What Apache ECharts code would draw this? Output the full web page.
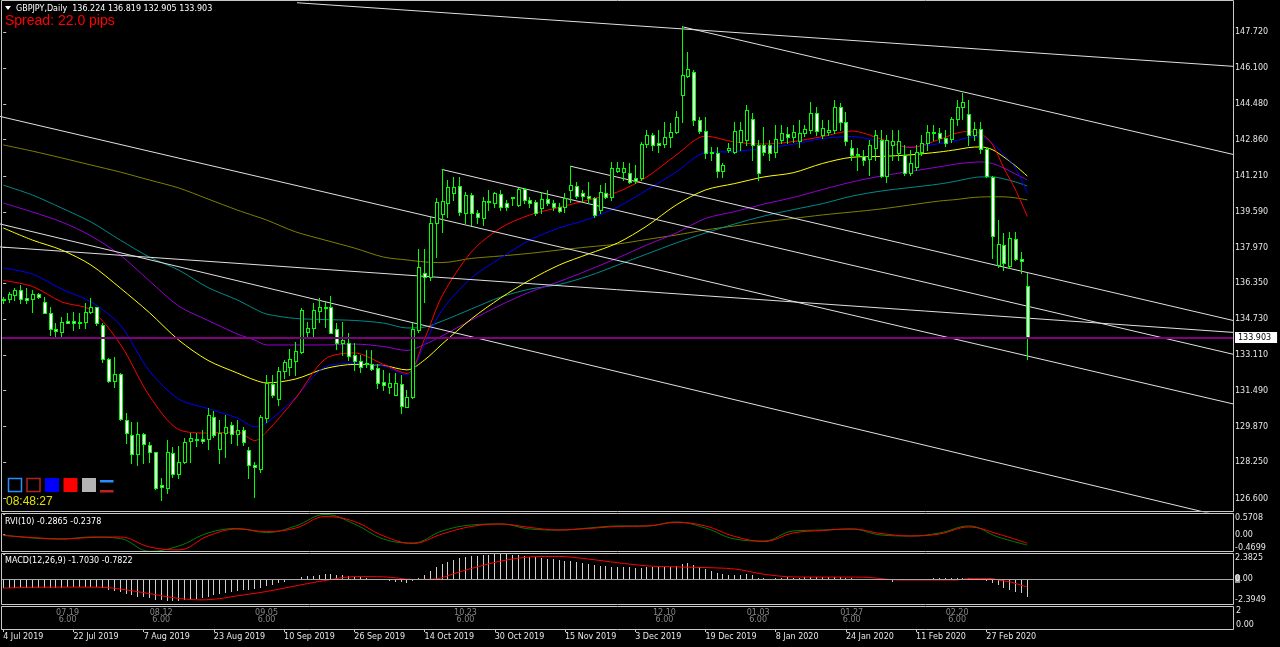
<!DOCTYPE html>
<html><head><meta charset="utf-8">
<script src="https://cdn.jsdelivr.net/npm/echarts@6/dist/echarts.min.js"></script>
<style>html,body{margin:0;padding:0;background:#000;overflow:hidden}#c{width:1280px;height:647px}</style>
</head><body><div id="c"></div>
<script>
// ---------------- DATA ----------------
const symbolTitle = 'GBPJPY,Daily';
const lastBar = [136.224, 136.819, 132.905, 133.903]; // O H L C shown in header
const spreadText = 'Spread: 22.0 pips';
const clockText = '08:48:27';
const rviTitle = 'RVI(10) -0.2865 -0.2378';
const macdTitle = 'MACD(12,26,9) -1.7030 -0.7822';

const dateTickIdx = [0,12,24,36,48,60,72,84,96,108,120,132,144,156,168];
const dateTickLabels = ['4 Jul 2019','22 Jul 2019','7 Aug 2019','23 Aug 2019','10 Sep 2019','26 Sep 2019','14 Oct 2019','30 Oct 2019','15 Nov 2019','3 Dec 2019','19 Dec 2019','8 Jan 2020','24 Jan 2020','11 Feb 2020','27 Feb 2020'];
const priceTicks = [147.72,146.10,144.48,142.86,141.21,139.59,137.97,136.35,134.73,133.11,131.49,129.87,128.25,126.60];
const rviTicks = [-0.4699, 0, 0.5708];
const macdTicks = [-2.3949, 0, 2.3825];
const sessionIdx = [11,27,45,79,113,129,145,163];
const sessionDate = ['07.19','08.12','09.05','10.23','12.10','01.03','01.27','02.20'];
const sessionTime = ['6.00','6.00','6.00','6.00','6.00','6.00','6.00','6.00'];

// daily candles [open, high, low, close], bar 0 = 4 Jul 2019
const ohlc = [
[135.60,135.75,135.46,135.64],[135.63,135.97,135.52,135.85],[135.82,136.13,135.60,136.05],[136.05,136.27,135.45,135.63],[135.67,136.14,135.45,135.60],
[135.63,136.05,135.07,135.87],[135.85,135.90,135.67,135.75],[135.52,135.75,135.00,135.02],[135.02,135.29,134.01,134.27],[134.27,134.54,133.93,134.19],
[134.16,134.84,133.86,134.59],[134.66,135.00,134.54,134.57],[134.65,135.07,134.24,134.54],[134.61,135.00,134.31,134.54],[134.59,135.45,134.31,135.07],
[135.07,135.67,135.00,135.27],[135.27,135.29,134.46,134.54],[134.46,134.54,132.80,132.91],[132.91,132.95,131.90,131.94],[131.94,133.03,131.67,132.24],
[132.24,132.27,130.16,130.19],[130.16,130.47,129.11,129.56],[129.48,130.08,128.20,128.62],[128.61,130.08,128.12,129.51],[129.53,129.57,128.21,129.06],
[129.03,129.18,128.27,128.73],[128.70,128.73,127.02,127.10],[127.22,127.52,126.54,127.14],[127.10,129.25,126.84,128.73],[128.65,128.95,127.59,127.70],
[127.70,128.98,127.52,128.25],[128.25,129.33,128.20,129.15],[129.21,129.56,128.27,129.33],[129.30,129.57,128.98,129.24],[129.29,129.71,129.11,129.22],
[129.29,130.69,128.83,130.39],[130.31,130.58,129.41,129.47],[128.83,130.16,128.20,129.59],[129.56,130.39,128.50,129.86],[129.95,130.08,129.12,129.53],
[129.53,130.16,129.03,129.71],[129.71,129.86,129.03,129.18],[128.80,128.95,127.53,128.12],[128.11,128.27,126.69,128.02],[127.93,130.39,127.82,130.31],
[130.24,132.20,130.08,131.82],[131.79,132.20,131.22,131.29],[131.10,132.57,130.84,132.38],[132.38,132.88,132.05,132.80],[132.57,133.36,132.20,132.92],
[132.83,133.71,132.20,133.29],[133.25,135.22,133.21,135.14],[134.13,134.61,133.93,134.31],[134.31,135.45,133.97,135.14],[135.11,135.67,134.61,135.27],
[135.29,135.52,134.39,135.22],[135.27,135.78,134.09,134.12],[134.28,134.57,133.36,133.63],[133.66,134.61,133.11,133.78],[133.63,134.09,132.88,133.07],
[133.11,133.63,132.43,132.85],[132.85,133.11,132.35,132.57],[132.70,133.33,132.57,132.76],[132.70,133.33,132.43,132.47],[132.53,132.70,131.60,131.82],
[131.88,132.43,131.52,131.75],[131.67,132.29,131.38,131.82],[131.29,132.27,131.29,131.82],[131.79,132.20,130.47,130.80],[130.76,131.52,130.76,131.19],
[131.19,134.57,131.14,134.27],[134.24,137.89,134.16,137.10],[136.80,137.89,135.52,136.65],[136.62,139.37,136.50,139.10],[139.07,140.20,137.56,140.05],
[139.49,141.52,138.69,140.08],[140.00,141.03,139.37,140.73],[140.43,141.17,140.13,140.73],[140.76,141.18,139.45,139.60],[139.52,140.50,139.07,140.35],
[140.35,140.44,138.99,139.52],[139.52,139.67,139.07,139.37],[139.30,140.27,138.99,140.09],[140.09,140.58,139.67,140.05],[139.98,140.50,139.82,140.43],
[140.40,140.58,139.67,139.82],[139.98,140.13,139.67,139.79],[140.26,140.27,139.90,140.21],[139.90,140.66,139.85,140.61],[140.61,140.66,139.98,140.13],
[140.13,140.27,139.82,140.00],[140.05,140.13,139.45,139.52],[139.75,140.50,139.52,140.16],[140.16,140.58,139.90,140.00],[140.00,140.13,139.67,139.82],
[139.82,139.99,139.58,139.64],[139.82,140.43,139.60,140.20],[140.58,141.66,140.05,140.80],[140.76,140.95,140.20,140.31],[140.43,140.58,140.05,140.31],
[140.31,140.95,139.98,140.20],[140.20,140.27,139.37,139.45],[139.67,140.80,139.52,140.47],[140.46,140.91,140.20,140.27],[140.27,141.86,140.13,141.56],
[141.44,141.86,141.41,141.56],[141.41,141.86,141.03,141.59],[141.33,141.79,140.91,140.95],[141.11,141.71,140.89,141.00],[141.11,142.77,141.03,142.66],
[142.66,143.30,142.54,143.07],[143.07,143.15,142.39,142.62],[142.69,143.30,142.31,142.62],[142.66,143.67,142.54,142.99],[142.99,143.60,142.54,143.22],
[143.22,144.17,143.15,143.87],[144.88,148.00,143.67,145.79],[145.74,146.84,145.71,146.04],[145.94,146.01,143.52,143.75],[143.75,143.90,143.15,143.26],
[143.26,143.87,142.01,142.27],[142.25,142.53,141.94,142.28],[142.24,142.54,141.18,141.45],[141.45,141.79,141.18,141.70],[142.39,142.69,142.31,142.49],
[142.31,143.67,142.24,143.25],[142.77,143.66,142.39,143.30],[142.84,144.43,142.62,144.20],[143.78,144.07,141.94,142.62],[142.62,142.84,141.03,141.33],
[142.62,143.45,142.16,142.31],[142.62,142.84,141.94,142.27],[142.31,143.52,142.06,142.87],[142.84,143.52,142.71,143.15],[143.10,143.43,142.71,142.96],
[142.96,143.50,142.75,143.20],[142.81,143.75,142.54,143.17],[143.15,143.52,143.02,143.33],[143.30,144.56,143.16,144.08],[144.05,144.34,143.07,143.26],
[143.07,143.75,142.93,143.37],[143.22,143.75,143.07,143.30],[143.30,144.65,143.16,144.32],[144.32,144.52,143.30,143.67],[143.64,144.11,142.62,142.81],
[142.47,142.84,141.94,142.16],[142.16,142.47,141.48,142.21],[142.12,142.39,141.71,141.94],[141.97,142.84,141.26,142.62],[142.47,143.30,141.94,143.07],
[142.84,143.30,141.17,141.21],[141.21,143.07,140.94,142.84],[142.62,143.30,141.94,142.81],[142.24,143.30,141.94,142.81],[142.16,142.62,141.26,141.36],
[141.36,142.39,141.26,141.79],[141.63,142.62,141.48,142.31],[142.31,143.07,142.16,142.69],[142.69,143.52,142.39,143.22],[143.17,143.52,142.84,143.22],
[143.17,143.39,142.75,142.92],[142.92,143.30,142.57,142.69],[142.87,143.88,142.75,143.78],[143.78,144.65,143.52,144.32],[144.35,144.96,143.78,144.55],
[144.02,144.65,142.62,143.07],[143.07,143.67,142.84,143.33],[143.33,143.67,142.24,142.42],[142.42,142.48,141.17,141.21],[141.18,141.21,137.51,138.51],
[137.18,139.22,137.10,138.13],[138.09,138.62,136.95,137.26],[137.14,138.69,137.05,138.39],[138.36,138.69,137.41,137.44],[137.47,137.76,136.80,137.36],
[136.224,136.819,132.905,133.903]
];

// moving averages, read at these bar indices
const maIdx = [0,5,10,15,20,25,30,35,40,43,45,50,55,60,65,69,72,75,80,85,90,95,100,105,110,115,120,125,130,135,140,145,150,155,160,163,165,167,169,171,173,175];
const maRed    = [136.48,136.21,135.51,135.14,133.60,131.25,129.73,129.57,129.62,129.23,129.62,131.16,132.92,133.20,132.68,132.27,133.83,135.78,137.77,138.86,139.45,139.79,140.13,140.49,141.17,142.16,143.02,142.75,142.66,142.77,143.00,143.25,142.89,142.50,142.87,143.16,143.23,143.14,142.66,141.57,140.58,139.37];
const maBlue   = [137.05,136.77,136.09,135.51,134.46,132.38,131.11,130.68,130.25,129.86,130.03,131.20,132.56,132.72,132.61,132.20,133.60,135.14,136.59,137.50,138.31,138.86,139.26,139.81,140.58,141.39,142.27,142.32,142.47,142.65,142.91,143.00,142.77,142.53,142.68,142.82,142.96,142.99,142.71,142.16,141.57,140.43];
const maYellow = [138.86,138.31,137.86,137.18,136.14,135.02,133.78,132.86,132.29,131.97,131.84,132.02,132.49,132.68,132.63,132.43,132.88,133.60,134.74,135.69,136.50,137.18,137.68,138.18,138.95,139.90,140.58,140.87,141.17,141.36,141.78,142.06,142.10,142.17,142.30,142.41,142.50,142.53,142.41,142.07,141.67,141.21];
const maPurple = [139.99,139.58,139.13,138.50,137.63,136.46,135.32,134.67,134.06,133.78,133.56,133.56,133.56,133.60,133.49,133.31,133.58,133.97,134.69,135.37,135.96,136.43,136.95,137.50,138.09,138.63,139.29,139.60,139.94,140.24,140.60,140.94,141.21,141.42,141.63,141.76,141.82,141.85,141.78,141.57,141.30,141.03];
const maTeal   = [140.80,140.35,139.76,139.13,138.31,137.54,136.95,136.16,135.60,135.19,134.96,134.76,134.71,134.67,134.55,134.33,134.37,134.64,135.19,135.73,136.09,136.30,136.68,137.18,137.68,138.18,138.63,139.04,139.40,139.69,139.96,140.30,140.53,140.69,140.85,140.99,141.10,141.17,141.17,141.08,140.94,140.76];
const maOlive  = [142.62,142.34,142.03,141.71,141.39,141.03,140.67,140.17,139.67,139.40,139.22,138.68,138.31,137.95,137.54,137.41,137.32,137.29,137.48,137.59,137.71,137.86,138.00,138.13,138.34,138.54,138.77,138.95,139.13,139.29,139.45,139.58,139.72,139.90,140.08,140.15,140.22,140.26,140.27,140.27,140.22,140.13];

// trend lines: [barIndex, price] anchor pairs
const trendLines = [
  [[50.2,149.06],[210.15,146.18]],
  [[116.2,147.96],[210.15,142.19]],
  [[74.93,141.51],[210.15,133.14]],
  [[96.86,141.66],[210.15,134.67]],
  [[-0.55,138.00],[210.15,134.13]],
  [[-0.55,143.91],[210.15,130.89]],
  [[-0.55,139.04],[210.15,125.68]]
];

// RVI(10), read every 5 bars
const rviIdx = [0,5,10,15,20,25,30,35,40,45,50,55,60,65,70,75,80,85,90,95,100,105,110,115,120,125,130,135,140,145,150,155,160,165,170,175];
const rviMain   = [-0.009,-0.092,-0.119,-0.064,-0.105,-0.46,-0.312,0.046,0.171,0.060,0.240,0.56,0.295,-0.119,-0.230,0.102,0.267,0.295,0.157,0.129,0.184,0.240,0.240,0.350,0.184,-0.119,-0.175,0.102,0.129,0.157,-0.009,-0.036,0.046,0.240,-0.064,-0.2865];
const rviSignal = [-0.023,-0.078,-0.119,-0.078,-0.064,-0.340,-0.42,-0.036,0.157,0.088,0.184,0.50,0.364,-0.036,-0.243,0.019,0.226,0.295,0.198,0.129,0.171,0.226,0.240,0.336,0.240,-0.050,-0.188,0.046,0.115,0.157,0.033,-0.036,0.019,0.212,0.019,-0.2378];

// MACD(12,26,9) main value per bar
const macdMain = [
-0.90,-0.91,-0.91,-0.90,-0.89,-0.88,-0.86,-0.84,-0.83,-0.83,-0.82,-0.80,-0.78,-0.77,-0.76,-0.75,-0.78,
-0.90,-1.02,-1.12,-1.28,-1.45,-1.58,-1.68,-1.76,-1.86,-1.97,-2.06,-2.10,-2.15,-2.12,-2.05,-1.98,-1.90,-1.80,
-1.68,-1.58,-1.48,-1.38,-1.28,-1.18,-1.10,-1.04,-0.98,-0.86,-0.70,-0.55,-0.40,-0.25,-0.12,
0.02,0.15,0.24,0.32,0.38,0.44,0.45,0.40,0.36,0.30,0.22,0.15,0.08,0.02,-0.06,-0.14,-0.20,-0.26,-0.34,-0.38,
-0.22,0.10,0.40,0.75,1.10,1.40,1.65,1.85,1.98,2.08,2.16,2.22,2.28,2.32,2.36,2.38,2.35,2.30,2.25,2.20,
2.14,2.06,2.00,1.94,1.86,1.78,1.72,1.70,1.62,1.55,1.40,1.32,1.26,1.20,1.18,1.16,1.15,1.10,1.05,1.08,
1.12,1.15,1.14,1.15,1.18,1.25,1.45,1.55,1.35,1.15,0.98,0.73,0.61,0.44,0.35,0.35,0.35,0.44,0.35,0.13,
0.13,0.04,0.13,0.13,0.19,0.13,0.13,0.19,0.19,0.19,0.19,0.19,0.19,0.19,0.13,0.06,0.02,-0.02,-0.03,-0.05,
-0.08,-0.10,-0.25,-0.10,-0.10,-0.10,-0.08,-0.05,0.00,0.08,0.13,0.13,0.06,0.10,0.12,0.05,0.02,-0.05,-0.15,-0.38,
-0.60,-0.91,-1.07,-1.23,-1.32,-1.703
];
const macdSigIdx = [0,5,11,17,21,25,28,31,34,37,40,45,51,55,60,65,70,74,77,80,85,90,95,100,105,110,115,119,125,130,135,147,151,153,163,165,169,170,172,175];
const macdSignal = [-0.88,-0.80,-0.78,-0.80,-1.05,-1.40,-1.70,-1.92,-2.00,-1.88,-1.62,-1.20,-0.55,-0.15,0.22,0.20,-0.05,0.00,0.50,1.00,1.70,2.10,2.15,1.90,1.55,1.25,1.15,1.10,0.95,0.45,0.19,0.17,-0.03,-0.10,-0.10,0.04,0.04,-0.10,-0.28,-0.7822];

// ---------------- CHART ----------------
const FONT = 'DejaVu Sans';
const X_MIN = -0.376, X_MAX = 210.15;
const chart = echarts.init(document.getElementById('c'), null, {renderer: 'canvas', width: 1280, height: 647});

function renderCandle(params, api) {
  const i = api.value(0), o = api.value(1), h = api.value(2), l = api.value(3), c = api.value(4);
  const pO = api.coord([i, o]), pC = api.coord([i, c]), pH = api.coord([i, h]), pL = api.coord([i, l]);
  const n = Math.floor(pO[0]);
  const yt = Math.round(Math.min(pO[1], pC[1])), yb = Math.round(Math.max(pO[1], pC[1]));
  const yh = Math.round(pH[1]), yl = Math.round(pL[1]);
  const bull = c >= o;
  const children = [
    {type: 'rect', shape: {x: n, y: yh, width: 1, height: Math.max(1, yl - yh + 1)}, style: {fill: '#00ff00'}},
    {type: 'rect', shape: {x: n - 1, y: yt, width: 4, height: yb - yt + 1}, style: {fill: '#00ff00'}}
  ];
  if (yb - yt >= 2) {
    children.push({type: 'rect', shape: {x: n, y: yt + 1, width: 2, height: yb - yt - 1}, style: {fill: bull ? '#000000' : '#ffffff'}});
  }
  return {type: 'group', children};
}
function renderHist(params, api) {
  const i = api.value(0), v = api.value(1);
  const p0 = api.coord([i, 0]), p1 = api.coord([i, v]);
  const x = Math.floor(p0[0]);
  const y0 = Math.round(p0[1]), y1 = Math.round(p1[1]);
  return {type: 'rect', shape: {x: x, y: Math.min(y0, y1), width: 1, height: Math.max(1, Math.abs(y1 - y0))}, style: {fill: '#cfcfcf'}};
}
function maSeries(vals, color) {
  return {type: 'line', xAxisIndex: 0, yAxisIndex: 0, data: maIdx.map((x, k) => [x, vals[k]]),
    symbol: 'none', smooth: 0.3, lineStyle: {color: color, width: 1}, silent: true, z: 2, animation: false};
}
const hiddenX = gi => ({type: 'value', gridIndex: gi, min: X_MIN, max: X_MAX, show: false});
const lbl = {color: '#e6e6e6', fontSize: 8, fontFamily: FONT};

const series = [];
series.push(maSeries(maOlive, '#808000'));
series.push(maSeries(maTeal, '#008b8b'));
series.push(maSeries(maPurple, '#9400d3'));
series.push(maSeries(maYellow, '#ffff00'));
series.push(maSeries(maBlue, '#0000ff'));
series.push(maSeries(maRed, '#ff0000'));
trendLines.forEach(t => series.push({type: 'line', xAxisIndex: 0, yAxisIndex: 0, data: t, symbol: 'none',
  lineStyle: {color: '#e0e0e0', width: 1}, silent: true, z: 2, clip: true}));
series.push({
  type: 'custom', xAxisIndex: 0, yAxisIndex: 0, clip: true, z: 3,
  data: ohlc.map((d, i) => [i, d[0], d[1], d[2], d[3]]),
  encode: {x: 0, y: [1, 2, 3, 4]},
  renderItem: renderCandle,
  markLine: {
    silent: true, symbol: 'none', animation: false,
    data: [{yAxis: lastBar[3]}],
    lineStyle: {color: '#800080', width: 2, type: 'solid'},
    label: {show: true, position: 'end', distance: 2, formatter: lastBar[3].toFixed(3),
      backgroundColor: '#ffffff', color: '#000000', fontSize: 8, fontFamily: FONT, padding: [2, 6, 1, 3]}
  }
});
series.push({type: 'line', xAxisIndex: 1, yAxisIndex: 1, data: rviIdx.map((x, k) => [x, rviMain[k]]),
  symbol: 'none', smooth: 0.4, lineStyle: {color: '#008000', width: 1}, silent: true});
series.push({type: 'line', xAxisIndex: 1, yAxisIndex: 1, data: rviIdx.map((x, k) => [x, rviSignal[k]]),
  symbol: 'none', smooth: 0.4, lineStyle: {color: '#ff0000', width: 1}, silent: true});
series.push({
  type: 'custom', xAxisIndex: 2, yAxisIndex: 2, clip: true,
  data: macdMain.map((v, i) => [i, v]), encode: {x: 0, y: 1}, renderItem: renderHist,
  markLine: {silent: true, symbol: 'none', animation: false, data: [{yAxis: 0}],
    lineStyle: {color: '#a8a8a8', width: 1, type: 'solid'}, label: {show: false}}
});
series.push({type: 'line', xAxisIndex: 2, yAxisIndex: 2, data: macdSigIdx.map((x, k) => [x, macdSignal[k]]),
  symbol: 'none', smooth: 0.3, lineStyle: {color: '#ff0000', width: 1}, silent: true, z: 3});
series.push({type: 'scatter', xAxisIndex: 3, yAxisIndex: 3, symbolSize: 1, itemStyle: {color: 'transparent'},
  data: sessionIdx.map(i => [i, 1.15]), silent: true,
  label: {show: true, position: 'inside', formatter: p => sessionDate[p.dataIndex] + '\n' + sessionTime[p.dataIndex],
    color: '#a8a8a8', fontSize: 8, lineHeight: 7.5, fontFamily: FONT}});

const option = {
  backgroundColor: '#000000',
  animation: false,
  grid: [
    {left: 1, top: 1, width: 1232, height: 511},
    {left: 1, top: 514, width: 1232, height: 37.7},
    {left: 1, top: 554, width: 1232, height: 50},
    {left: 1, top: 607, width: 1232, height: 22}
  ],
  xAxis: [hiddenX(0), hiddenX(1), hiddenX(2), {
    type: 'value', gridIndex: 3, min: X_MIN, max: X_MAX, position: 'bottom',
    axisLine: {show: false}, splitLine: {show: false},
    axisTick: {show: true, customValues: dateTickIdx, length: 3, lineStyle: {color: '#c8c8c8'}},
    axisLabel: Object.assign({customValues: dateTickIdx, formatter: v => dateTickLabels[dateTickIdx.indexOf(v)], align: 'left', margin: 4}, lbl)
  }],
  yAxis: [
    {type: 'value', gridIndex: 0, position: 'right', min: 125.995, max: 149.138,
      axisLine: {show: false}, splitLine: {show: false},
      axisTick: {show: true, customValues: priceTicks, length: 3, lineStyle: {color: '#c8c8c8'}},
      axisLabel: Object.assign({customValues: priceTicks, formatter: v => v.toFixed(3), margin: 2}, lbl)},
    {type: 'value', gridIndex: 1, position: 'right', min: rviTicks[0], max: rviTicks[2],
      axisLine: {show: false}, splitLine: {show: false},
      axisTick: {show: true, customValues: rviTicks, length: 2, lineStyle: {color: '#c8c8c8'}},
      axisLabel: Object.assign({customValues: rviTicks, formatter: v => v === 0 ? '0.00' : v.toFixed(4), margin: 2,
        showMinLabel: true, showMaxLabel: true, verticalAlignMinLabel: 'bottom', verticalAlignMaxLabel: 'top'}, lbl)},
    {type: 'value', gridIndex: 2, position: 'right', min: macdTicks[0], max: macdTicks[2],
      axisLine: {show: false}, splitLine: {show: false},
      axisTick: {show: true, customValues: macdTicks, length: 2, lineStyle: {color: '#c8c8c8'}},
      axisLabel: Object.assign({customValues: macdTicks, formatter: v => v === 0 ? '{z|0}.00' : v.toFixed(4), margin: 2,
        showMinLabel: true, showMaxLabel: true, verticalAlignMinLabel: 'bottom', verticalAlignMaxLabel: 'top',
        rich: {z: {backgroundColor: '#9a9a9a', color: '#ffffff', fontSize: 8, fontFamily: FONT}}}, lbl)},
    {type: 'value', gridIndex: 3, position: 'right', min: 0, max: 2,
      axisLine: {show: false}, splitLine: {show: false},
      axisTick: {show: false},
      axisLabel: Object.assign({customValues: [0, 2], formatter: v => v === 0 ? '0.00' : String(v), margin: 3,
        showMinLabel: true, showMaxLabel: true, verticalAlignMinLabel: 'bottom', verticalAlignMaxLabel: 'top'}, lbl)}
  ],
  graphic: [
    // panel frames
    {type: 'rect', z: 100, silent: true, shape: {x: 1.5, y: 0.5, width: 1232, height: 511}, style: {fill: 'none', stroke: '#c8c8c8', lineWidth: 1}},
    {type: 'rect', z: 100, silent: true, shape: {x: 1.5, y: 513.5, width: 1232, height: 38}, style: {fill: 'none', stroke: '#c8c8c8', lineWidth: 1}},
    {type: 'rect', z: 100, silent: true, shape: {x: 1.5, y: 553.5, width: 1232, height: 51}, style: {fill: 'none', stroke: '#c8c8c8', lineWidth: 1}},
    {type: 'rect', z: 100, silent: true, shape: {x: 1.5, y: 606.5, width: 1232, height: 23}, style: {fill: 'none', stroke: '#c8c8c8', lineWidth: 1}},
    // header
    {type: 'polygon', z: 101, silent: true, shape: {points: [[5, 6], [11, 6], [8, 10]]}, style: {fill: '#ffffff'}},
    {type: 'text', z: 101, silent: true, x: 16, y: 8.5, style: {text: symbolTitle + '  ' + lastBar.map(v => v.toFixed(3)).join(' '), fill: '#ffffff', font: '8px "DejaVu Sans"', verticalAlign: 'middle'}},
    {type: 'text', z: 101, silent: true, x: 5, y: 21.5, style: {text: spreadText, fill: '#ff0000', font: '14px "Liberation Sans"', verticalAlign: 'middle'}},
    // control buttons
    {type: 'rect', z: 101, silent: true, shape: {x: 8.5, y: 478.5, width: 13, height: 13}, style: {fill: 'none', stroke: '#2a8cff', lineWidth: 1.5}},
    {type: 'rect', z: 101, silent: true, shape: {x: 27, y: 478.5, width: 13, height: 13}, style: {fill: 'none', stroke: '#b22222', lineWidth: 1.5}},
    {type: 'rect', z: 101, silent: true, shape: {x: 45, y: 478, width: 14, height: 14}, style: {fill: '#0000ff'}},
    {type: 'rect', z: 101, silent: true, shape: {x: 63.5, y: 478, width: 14, height: 14}, style: {fill: '#ff0000'}},
    {type: 'rect', z: 101, silent: true, shape: {x: 82, y: 478, width: 14, height: 14}, style: {fill: '#b4b4b4'}},
    {type: 'rect', z: 101, silent: true, shape: {x: 100, y: 480, width: 13.5, height: 2.5}, style: {fill: '#2a8cff'}},
    {type: 'rect', z: 101, silent: true, shape: {x: 100, y: 490, width: 13.5, height: 2.5}, style: {fill: '#c02020'}},
    {type: 'text', z: 101, silent: true, x: 6, y: 502, style: {text: clockText, fill: '#e0e000', font: '12px "Liberation Sans"', verticalAlign: 'middle'}},
    // indicator titles
    {type: 'text', z: 101, silent: true, x: 5, y: 521.5, style: {text: rviTitle, fill: '#ffffff', font: '8px "DejaVu Sans"', verticalAlign: 'middle'}},
    {type: 'text', z: 101, silent: true, x: 5, y: 561, style: {text: macdTitle, fill: '#ffffff', font: '8px "DejaVu Sans"', verticalAlign: 'middle'}}
  ],
  series: series
};
chart.setOption(option);
</script>
</body></html>
